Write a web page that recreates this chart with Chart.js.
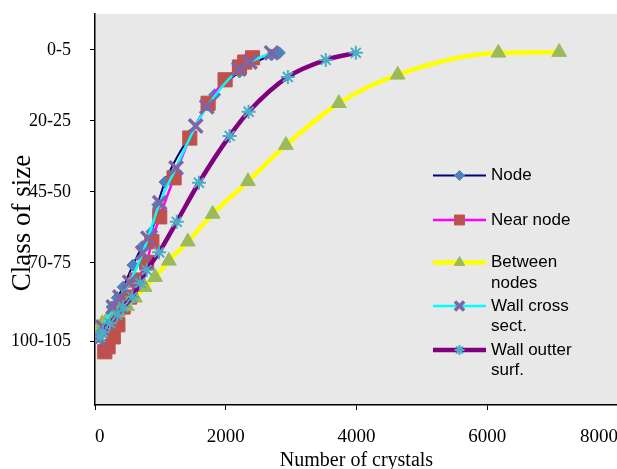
<!DOCTYPE html>
<html>
<head>
<meta charset="utf-8">
<script src="https://cdn.jsdelivr.net/npm/chart.js@4/dist/chart.umd.min.js"></script>
<style>
  html, body { margin: 0; padding: 0; background: #fff; overflow: hidden; }
  #wrap { position: relative; width: 617px; height: 469px; overflow: hidden; }
</style>
</head>
<body>
<div id="wrap"><canvas id="chart" width="634" height="469"></canvas></div>
<script>
// ---- data (x = number of crystals, y = position on the class-of-size axis) ----
const seriesNames = ['Node', 'Near node', 'Between nodes', 'Wall cross sect.', 'Wall outter surf.'];
const legendText = [['Node'], ['Near node'], ['Between', 'nodes'], ['Wall cross', 'sect.'], ['Wall outter', 'surf.']];

const yTickLabels = ['0-5', '20-25', '45-50', '70-75', '100-105'];
const yTickPos = [0, 1, 2, 3, 4.1];
const xTickVals = [0, 2000, 4000, 6000, 8000];

const nodeX = [30, 120, 260, 340, 430, 580, 720, 870, 960, 1070, 1450, 1830, 2210, 2700, 2820];
const nodeY = [4.04, 3.85, 3.62, 3.49, 3.34, 3.03, 2.77, 2.56, 2.18, 1.86, 1.20, 0.63, 0.31, 0.07, 0.04];

const nearX = [150, 200, 280, 350, 430, 530, 640, 790, 870, 990, 1210, 1450, 1730, 1990, 2210, 2290, 2410];
const nearY = [4.25, 4.18, 4.04, 3.87, 3.62, 3.48, 3.24, 2.99, 2.70, 2.35, 1.80, 1.24, 0.75, 0.42, 0.24, 0.17, 0.11];

const betweenX = [50, 110, 200, 350, 490, 610, 760, 920, 1130, 1420, 1800, 2340, 2920, 3730, 4630, 6170, 7100];
const betweenY = [3.92, 3.85, 3.77, 3.69, 3.61, 3.49, 3.34, 3.20, 2.97, 2.70, 2.31, 1.85, 1.34, 0.75, 0.35, 0.04, 0.03];

const crossX = [50, 120, 280, 380, 530, 730, 810, 990, 1240, 1540, 1710, 2200, 2370, 2700];
const crossY = [4.08, 3.90, 3.62, 3.48, 3.27, 2.86, 2.65, 2.15, 1.66, 1.07, 0.80, 0.27, 0.17, 0.04];

const outerX = [80, 120, 230, 340, 430, 570, 690, 790, 980, 1250, 1590, 2060, 2350, 2950, 3530, 3990];
const outerY = [4.04, 3.97, 3.85, 3.73, 3.62, 3.48, 3.28, 3.10, 2.85, 2.42, 1.87, 1.21, 0.87, 0.38, 0.14, 0.04];

// ---- styles ----
const lineColors = ['#000080', '#FF00FF', '#FFFF00', '#00FFFF', '#800080'];
const lineWidths = [2, 2.5, 4.5, 2.5, 4.5];
const markerColors = ['#4F81BD', '#C0504D', '#9BBB59', '#8064A2', '#4BACC6'];
const markerStyles = ['rectRot', 'rect', 'triangle', 'crossRot', 'star'];
const markerRadius = [6, 10, 8.5, 9.5, 7];
const markerBorder = [1, 1, 1, 3.5, 2];
const legendRadius = [5, 7, 6, 6.5, 5];

const xs = [nodeX, nearX, betweenX, crossX, outerX];
const ys = [nodeY, nearY, betweenY, crossY, outerY];

const pairs = (a, b) => a.map((v, i) => ({ x: v, y: b[i] }));

const datasets = seriesNames.map((name, i) => ({
  label: name,
  data: pairs(xs[i], ys[i]),
  showLine: true,
  cubicInterpolationMode: 'monotone',
  borderColor: lineColors[i],
  borderWidth: lineWidths[i],
  pointStyle: markerStyles[i],
  pointRadius: markerRadius[i],
  pointBackgroundColor: markerColors[i],
  pointBorderColor: markerColors[i],
  pointBorderWidth: markerBorder[i],
  order: seriesNames.length - i
}));

// grey plot area
const plotBg = {
  id: 'plotBg',
  beforeDraw(chart) {
    const { ctx, chartArea: a } = chart;
    ctx.save();
    ctx.fillStyle = '#E8E8E8';
    ctx.fillRect(a.left, a.top, a.right - a.left, a.bottom - a.top);
    ctx.restore();
  }
};

// legend inside the plot area, with wrapped labels
const legendRows = [175.5, 220, 262.5, 306, 350];
const sideLegend = {
  id: 'sideLegend',
  afterDraw(chart) {
    const ctx = chart.ctx;
    ctx.save();
    chart.data.datasets.forEach((ds, i) => {
      const y = legendRows[i];
      ctx.strokeStyle = ds.borderColor;
      ctx.lineWidth = ds.borderWidth;
      ctx.beginPath();
      ctx.moveTo(433, y);
      ctx.lineTo(486, y);
      ctx.stroke();
      ctx.fillStyle = ds.pointBackgroundColor;
      ctx.strokeStyle = ds.pointBorderColor;
      ctx.lineWidth = ds.pointBorderWidth;
      Chart.helpers.drawPoint(ctx, { pointStyle: ds.pointStyle, radius: legendRadius[i], rotation: 0, borderWidth: ds.pointBorderWidth }, 459.5, y);
      ctx.fillStyle = '#000';
      ctx.font = '17px "Liberation Sans", Arial, sans-serif';
      ctx.textBaseline = 'middle';
      legendText[i].forEach((t, k) => ctx.fillText(t, 491, y + k * 20.5));
    });
    ctx.restore();
  }
};

const serif = '"Liberation Serif", "Times New Roman", serif';

new Chart(document.getElementById('chart'), {
  type: 'scatter',
  data: { datasets },
  plugins: [plotBg, sideLegend],
  options: {
    responsive: false,
    animation: false,
    layout: { padding: { top: 14, left: 0, right: 0, bottom: 0 } },
    plugins: { legend: { display: false }, tooltip: { enabled: false } },
    scales: {
      x: {
        type: 'linear',
        min: 0,
        max: 8000,
        afterBuildTicks: s => { s.ticks = xTickVals.map(v => ({ value: v })); },
        afterFit: s => { s.height = 64; },
        grid: { color: 'rgba(0,0,0,0)', tickColor: '#000', tickLength: 5 },
        border: { color: '#000', width: 1.5 },
        ticks: { color: '#000', font: { family: serif, size: 19 }, padding: 16, maxRotation: 0, autoSkip: false,
                 align: 'inner', callback: v => String(v) },
        title: { display: true, text: 'Number of crystals', color: '#000', font: { family: serif, size: 20 }, padding: { top: 0, bottom: -4 } }
      },
      y: {
        type: 'linear',
        reverse: true,
        min: -0.507,
        max: 5,
        afterBuildTicks: s => { s.ticks = yTickPos.map(v => ({ value: v })); },
        afterFit: s => { s.width = 95; s.paddingTop = 0; s.paddingBottom = 0; },
        grid: { color: 'rgba(0,0,0,0)', tickColor: '#000', tickLength: 5 },
        border: { color: '#000', width: 1.5 },
        ticks: { color: '#000', font: { family: serif, size: 18 }, padding: 19, autoSkip: false,
                 callback: (v, i) => yTickLabels[i] },
        title: { display: true, text: 'Class of size    ', color: '#000', font: { family: serif, size: 27 }, padding: { top: 7, bottom: 0 } }
      }
    }
  }
});
</script>
</body>
</html>
